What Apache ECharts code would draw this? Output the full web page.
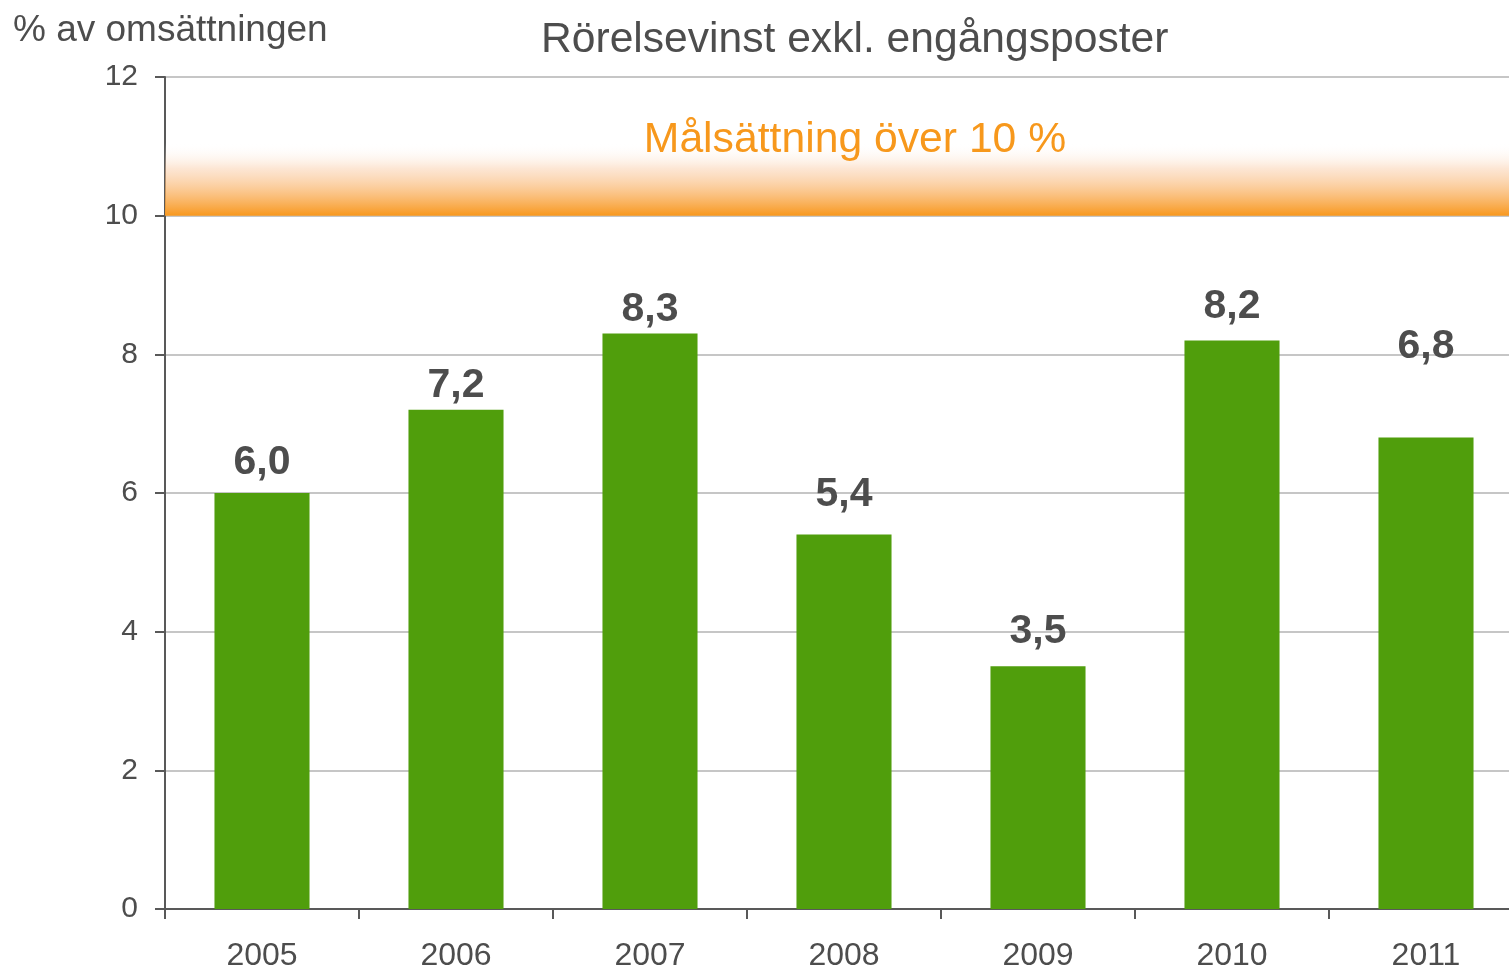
<!DOCTYPE html>
<html>
<head>
<meta charset="utf-8">
<script src="https://cdn.jsdelivr.net/npm/echarts@6/dist/echarts.min.js"></script>
<style>html,body{margin:0;padding:0;background:#fff}#c{width:1509px;height:969px}</style>
</head>
<body>
<div id="c"></div>
<script>
// ---- data ----
const categories = ['2005', '2006', '2007', '2008', '2009', '2010', '2011'];
const values = [6.0, 7.2, 8.3, 5.4, 3.5, 8.2, 6.8];
const yTicks = { min: 0, max: 12, interval: 2 };
const targetLevel = 10;
const targetBandTop = 11.05;
const titleText = 'Rörelsevinst exkl. engångsposter';
const yName = '% av omsättningen';
const targetText = 'Målsättning över 10 %';

// ---- styling ----
const labelDistances = [10, 4, 3, 19, 14, 13, 70];
const font = '"Liberation Sans", Arial, sans-serif';
const textColor = '#4d4d4d';

const chart = echarts.init(document.getElementById('c'), null, { renderer: 'canvas' });
chart.setOption({
  animation: false,
  backgroundColor: '#fff',
  title: [
    { text: titleText, left: 536, top: 14, textStyle: { fontFamily: font, fontSize: 42.6, fontWeight: 'normal', color: textColor } },
    { text: yName, left: 8, top: 7, textStyle: { fontFamily: font, fontSize: 37, fontWeight: 'normal', color: textColor } }
  ],
  grid: { left: 165, right: -14, top: 77, bottom: 60, containLabel: false, outerBoundsMode: 'none' },
  xAxis: {
    type: 'category',
    data: categories,
    axisLine: { lineStyle: { color: '#595959', width: 2 } },
    axisTick: { show: true, length: 10, lineStyle: { color: '#595959', width: 2 } },
    axisLabel: { fontFamily: font, fontSize: 32, color: textColor, margin: 31 },
    splitLine: { show: false }
  },
  yAxis: {
    type: 'value',
    min: yTicks.min, max: yTicks.max, interval: yTicks.interval,
    axisLine: { show: true, lineStyle: { color: '#595959', width: 2 } },
    axisTick: { show: true, length: 10, lineStyle: { color: '#595959', width: 2 } },
    axisLabel: { fontFamily: font, fontSize: 30, color: textColor, margin: 27 },
    splitLine: { show: true, lineStyle: { color: '#c6c6c6', width: 2 } }
  },
  series: [{
    type: 'bar',
    barWidth: '49%',
    data: values.map((v, i) => ({
      value: v,
      label: { distance: labelDistances[i] }
    })),
    itemStyle: { color: '#509e0c' },
    label: {
      show: true,
      position: 'top',
      fontFamily: font,
      fontSize: 41,
      fontWeight: 'bold',
      color: textColor,
      formatter: p => p.value.toFixed(1).replace('.', ',')
    },
    markArea: {
      silent: true,
      itemStyle: {
        color: {
          type: 'linear', x: 0, y: 0, x2: 0, y2: 1,
          colorStops: [
            { offset: 0, color: 'rgba(255,255,255,0)' },
            { offset: 0.35, color: 'rgba(250,200,160,0.45)' },
            { offset: 1, color: 'rgba(248,152,30,1)' }
          ]
        }
      },
      label: {
        show: true,
        position: 'inside',
        offset: [11, -39],
        fontFamily: font,
        fontSize: 42.7,
        color: '#f7981c'
      },
      data: [[{ yAxis: targetLevel, name: targetText }, { yAxis: targetBandTop }]]
    }
  }]
});
</script>
</body>
</html>
